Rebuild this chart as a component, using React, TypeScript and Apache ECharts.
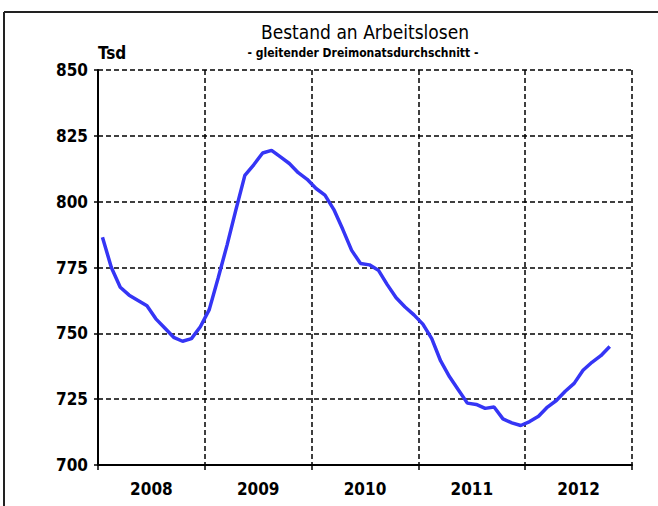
import React, { useEffect, useRef } from "react";
import * as echarts from "echarts";

const years = ["2008", "2009", "2010", "2011", "2012"];
const months = years.flatMap((y) =>
  ["01", "02", "03", "04", "05", "06", "07", "08", "09", "10", "11", "12"].map((m) => `${y}-${m}`)
);
const values2008 = [786.5, 775, 767.5, 764.5, 762.5, 760.5, 755.5, 752, 748.5, 747, 748, 752.5];
const values2009 = [759, 771, 783.5, 797, 810, 814, 818.5, 819.5, 817, 814.5, 811, 808.5];
const values2010 = [805, 802.5, 797, 789.5, 781.5, 776.5, 776, 774, 768.5, 763.5, 760, 757];
const values2011 = [753.5, 748, 739.5, 733.5, 728.5, 723.5, 723, 721.5, 722, 717.5, 716, 715];
const values2012 = [716.5, 718.5, 722, 724.5, 728, 731, 736, 739, 741.5, 745];
const yTicks = [700, 725, 750, 775, 800, 825, 850];

const FONT = "'DejaVu Sans Condensed', 'Liberation Sans Narrow', 'Noto Sans', sans-serif";

export default function App() {
  const ref = useRef<HTMLDivElement>(null);
  useEffect(() => {
    if (!ref.current) return;
    const chart = echarts.init(ref.current, null, { renderer: "svg" });
    const data = [...values2008, ...values2009, ...values2010, ...values2011, ...values2012];
    chart.setOption({
      animation: false,
      backgroundColor: "#ffffff",
      grid: { left: 98, right: 26, top: 70, bottom: 41, containLabel: false },
      xAxis: [
        {
          type: "category",
          data: months,
          boundaryGap: true,
          show: false,
        },
        {
          type: "category",
          data: years,
          boundaryGap: true,
          position: "bottom",
          axisLine: { show: true, lineStyle: { color: "#000", width: 2 } },
          axisTick: { show: true, length: 5, lineStyle: { color: "#000", width: 1.5 } },
          splitLine: { show: true, lineStyle: { color: "#000", width: 1.5, type: [5, 3] } },
          axisLabel: { color: "#000", fontSize: 17, fontWeight: "bold", fontFamily: FONT, margin: 15 },
        },
      ],
      yAxis: {
        type: "value",
        min: yTicks[0],
        max: yTicks[yTicks.length - 1],
        interval: 25,
        axisLine: { show: true, lineStyle: { color: "#000", width: 2 } },
        axisTick: { show: true, length: 4, lineStyle: { color: "#000", width: 1.5 } },
        splitLine: { show: true, lineStyle: { color: "#000", width: 1.5, type: [5, 3] } },
        axisLabel: { color: "#000", fontSize: 17, fontWeight: "bold", fontFamily: FONT, margin: 10 },
      },
      series: [
        {
          type: "line",
          xAxisIndex: 0,
          data,
          showSymbol: false,
          symbol: "none",
          lineStyle: { color: "#3535f5", width: 3.5 },
          z: 5,
        },
      ],
      graphic: [
        { type: "line", shape: { x1: 4, y1: 12, x2: 658, y2: 12 }, style: { stroke: "#222", lineWidth: 2 } },
        { type: "line", shape: { x1: 4, y1: 12, x2: 4, y2: 506 }, style: { stroke: "#222", lineWidth: 2 } },
        {
          type: "text",
          x: 365,
          y: 32,
          style: {
            text: "Bestand an Arbeitslosen",
            font: `19px ${FONT}`,
            fill: "#000",
            textAlign: "center",
            textVerticalAlign: "middle",
          },
        },
        {
          type: "text",
          x: 363,
          y: 53,
          style: {
            text: "- gleitender Dreimonatsdurchschnitt -",
            font: `bold 12px ${FONT}`,
            fill: "#000",
            textAlign: "center",
            textVerticalAlign: "middle",
          },
        },
        {
          type: "text",
          x: 98,
          y: 53,
          style: {
            text: "Tsd",
            font: `bold 17px ${FONT}`,
            fill: "#000",
            textAlign: "left",
            textVerticalAlign: "middle",
          },
        },
      ],
    });
    return () => chart.dispose();
  }, []);
  return <div ref={ref} style={{ width: 658, height: 506, position: "absolute", left: 0, top: 0 }} />;
}
